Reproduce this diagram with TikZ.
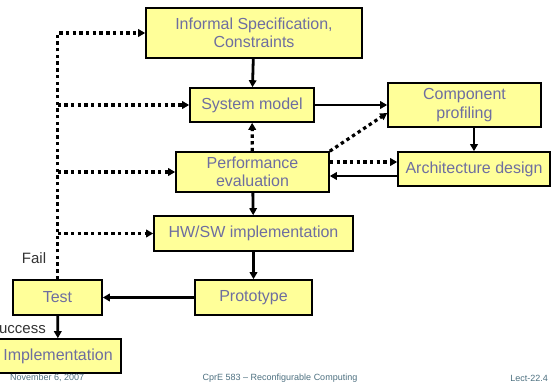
\documentclass[tikz,border=0pt]{standalone}
\usepackage{fontspec}
\setmainfont{Liberation Sans}
\usetikzlibrary{positioning,arrows.meta}
\definecolor{boxfill}{HTML}{FFFF99}
\definecolor{boxtext}{HTML}{6E6EA0}
\definecolor{foottext}{HTML}{4D7080}

\begin{document}
\begin{tikzpicture}[x=1pt, y=-1pt,
    box/.style={draw=black, line width=1.6pt, fill=boxfill, text=boxtext, align=center, inner sep=0pt, font=\fontsize{16}{18.5}\selectfont},
    flow/.style={-{Triangle[length=7pt,width=7.5pt]}, line width=2.8pt},
    back/.style={-{Triangle[length=7pt,width=7.5pt]}, line width=3.2pt, dash pattern=on 3.4pt off 3.3pt},
    note/.style={text=black!80, font=\fontsize{15}{17}\selectfont, inner sep=0pt},
    foot/.style={text=foottext, font=\fontsize{9}{10}\selectfont, inner sep=0pt}
  ]
    \useasboundingbox (0,0) rectangle (553,385);

    \node[box, minimum width=216, minimum height=50] (spec) at (254,33) {Informal Specification,\\Constraints};
    \node[box, minimum width=124, minimum height=34] (sysmodel) at (252,105) {System model};
    \node[box, minimum width=153, minimum height=44] (profiling) at (464.5,105) {Component\\profiling};
    \node[box, minimum width=153, minimum height=40] (perfeval) at (252.5,172) {Performance\\evaluation};
    \node[box, minimum width=152, minimum height=34] (archdesign) at (474,169) {Architecture design};
    \node[box, minimum width=199, minimum height=35] (hwsw) at (253.5,233.5) {HW/SW implementation};
    \node[box, minimum width=117, minimum height=35] (proto) at (253.5,297.5) {Prototype};
    \node[box, minimum width=89, minimum height=35] (test) at (57.5,297.5) {Test};
    \node[box, minimum width=126, minimum height=34] (impl) at (58,356) {Implementation};

    \node[note] (fail) at (34,258) {Fail};
    \node[note, anchor=east] (success) at (46,328) {Success};

    % main flow
    \draw[flow] (spec) -- (sysmodel);
    \draw[flow] (sysmodel) -- (profiling);
    \draw[flow] (archdesign.north |- profiling.south) -- (archdesign.north);
    \draw[flow] ([yshift=-7pt]archdesign.west) -- ([yshift=-7pt]archdesign.west -| perfeval.east);
    \draw[flow] (perfeval) -- (hwsw);
    \draw[flow] (hwsw) -- (proto);
    \draw[flow] (proto) -- (test);
    \draw[flow] (test) -- (impl);

    % feedback paths
    \draw[back] (perfeval) -- (sysmodel);
    \draw[back] (perfeval.north east) -- ([yshift=-8pt]profiling.west);
    \draw[back] ([yshift=10pt]perfeval.east) -- ([yshift=10pt]perfeval.east -| archdesign.west);
    \draw[back] (test.north) |- (spec.west);
    \draw[back] (test.north |- sysmodel.west) -- (sysmodel.west);
    \draw[back] (test.north |- perfeval.west) -- (perfeval.west);
    \draw[back] (test.north |- hwsw.west) -- (hwsw.west);

    % footer
    \node[foot, anchor=west] (date) at (10,378) {November 6, 2007};
    \node[foot] (course) at (280,378) {CprE 583 -- Reconfigurable Computing};
    \node[foot, anchor=east] (lect) at (548,378) {Lect-22.4};
  \end{tikzpicture}
\end{document}
